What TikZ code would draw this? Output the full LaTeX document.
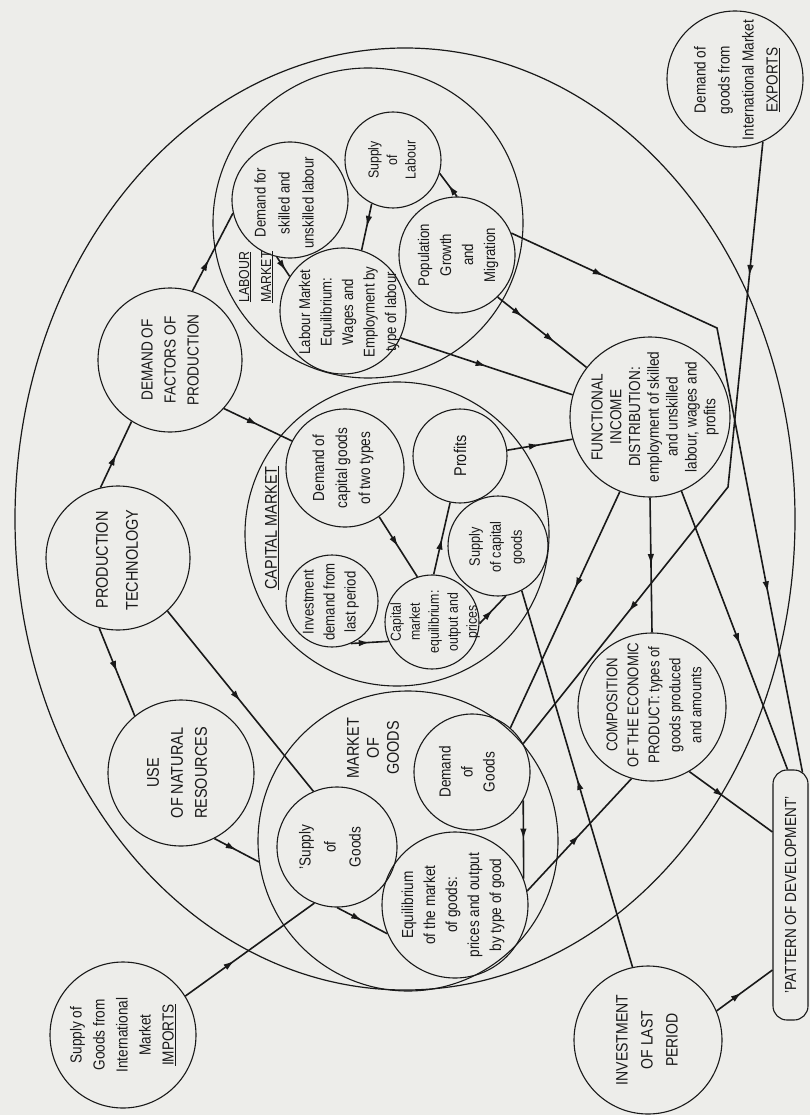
\documentclass[tikz,border=0pt]{standalone}
\usepackage{fontspec}
\setmainfont{Liberation Sans}[FakeStretch=0.85]
\usetikzlibrary{arrows.meta,decorations.markings,calc}
\newcommand{\myfs}[2]{\fontsize{#1}{#2}\selectfont}
\definecolor{bg}{RGB}{237,237,234}
\definecolor{ink}{RGB}{25,25,25}
\tikzset{
 ci/.style={circle, draw=ink, line width=1.1pt, inner sep=0pt, minimum size=#1},
 tx/.style={rotate=90, align=center, text=ink, inner sep=0pt},
 conn/.style={draw=ink, line width=1.6pt},
 tipa/.tip={Latex[length=11pt,width=6.5pt]},
 ma/.style={decoration={markings, mark=at position #1 with {\arrow{tipa}}}, postaction={decorate}},
 ma/.default=0.5,
 matwo/.style 2 args={decoration={markings, mark=at position #1 with {\arrow{tipa}}, mark=at position #2 with {\arrow{tipa}}}, postaction={decorate}},
}
\begin{document}
\begin{tikzpicture}[x=1pt,y=-1pt]
\fill[bg] (0,0) rectangle (810,1115);
\useasboundingbox (0,0) rectangle (810,1115);

% big outlines
\draw[ink, line width=1.2pt] (405,519) ellipse [x radius=390pt, y radius=471pt];
\node[ci=310] (LC) at (368,223) {};
\node[ci=304] (CC) at (397,534) {};
\node[ci=300] (GC) at (408,841) {};

% outer nodes
\node[ci=144] (PT) at (118,558) {};
\node[ci=144] (DF) at (170,360) {};
\node[ci=146] (UNR) at (181,773) {};
\node[ci=146] (IMP) at (123,1035) {};
\node[ci=148] (ILP) at (648,1040) {};
\node[ci=136] (EXP) at (735,79) {};
\node[ci=160] (FID) at (650,417) {};
\node[ci=148] (COMP) at (652,707) {};
\node[draw=ink, line width=1.1pt, rounded corners=14pt, minimum width=35, minimum height=250, inner sep=0pt] (PAT) at (790.5,895) {};

% labour market
\node[ci=116] (DSL) at (290,200) {};
\node[ci=126] (LME) at (343,311) {};
\node[ci=96] (SoL) at (393,160) {};
\node[ci=116] (PG) at (457,255) {};
% capital market
\node[ci=118] (DCG) at (345,468) {};
\node[ci=94] (PRO) at (460,456) {};
\node[ci=100] (SCG) at (498,546) {};
\node[ci=92] (IDLP) at (332,601) {};
\node[ci=94] (CME) at (432,622) {};
% goods market
\node[ci=116] (DoG) at (472,772) {};
\node[ci=120] (SoG) at (337,847) {};
\node[ci=146] (EqG) at (455,905) {};

% texts
\node[tx, font=\myfs{17}{30}] (PTt) at (117,560) {PRODUCTION\\TECHNOLOGY};
\node[tx, font=\myfs{16}{23}] (DFt) at (170,360) {DEMAND OF\\FACTORS OF\\PRODUCTION};
\node[tx, font=\myfs{17}{24}] (UNRt) at (177,773) {USE\\OF NATURAL\\RESOURCES};
\node[tx, font=\myfs{16}{23}] (IMPt) at (123,1035) {Supply of\\Goods from\\International\\Market\\\underline{IMPORTS}};
\node[tx, font=\myfs{16.5}{25}] (ILPt) at (647,1040) {INVESTMENT\\OF LAST\\PERIOD};
\node[tx, font=\myfs{16}{24}] (EXPt) at (737,80) {Demand of\\goods from\\International Market\\\underline{EXPORTS}};
\node[tx, font=\myfs{16}{18.8}] (FIDt) at (655,417) {FUNCTIONAL\\INCOME\\DISTRIBUTION:\\employment of skilled\\and unskilled\\labour, wages and\\profits};
\node[tx, font=\myfs{15.5}{21}] (COMPt) at (654,705) {COMPOSITION\\OF THE ECONOMIC\\PRODUCT: types of\\goods produced\\and amounts};
\node[tx, font=\myfs{16}{20}] (PATt) at (PAT) {'PATTERN OF DEVELOPMENT'};

\node[tx, font=\myfs{14.5}{22}] (LMl) at (256,277) {\underline{LABOUR}\\\underline{MARKET}};
\node[tx, font=\myfs{15.5}{24}] (DSLt) at (284,203) {Demand for\\skilled and\\unskilled labour};
\node[tx, font=\myfs{15.5}{21.5}] (LMEt) at (349,312) {Labour Market\\Equilibrium:\\Wages and\\Employment by\\type of labour};
\node[tx, font=\myfs{14.5}{18.5}] (SoLt) at (392,160) {Supply\\of\\Labour};
\node[tx, font=\myfs{15.5}{22}] (PGt) at (458,255) {Population\\Growth\\and\\Migration};

\node[tx, font=\myfs{17}{20}] (CMl) at (272,528) {\underline{CAPITAL MARKET}};
\node[tx, font=\myfs{16}{23}] (DCGt) at (343,468) {Demand of\\capital goods\\of two types};
\node[tx, font=\myfs{17}{20}] (PROt) at (460,456) {Profits};
\node[tx, font=\myfs{15}{21}] (SCGt) at (497,547) {Supply\\of capital\\goods};
\node[tx, font=\myfs{15.5}{21}] (IDLPt) at (331,602) {Investment\\demand from\\last period};
\node[tx, font=\myfs{14.5}{19}] (CMEt) at (435,622) {Capital\\market\\equilibrium:\\output and\\prices};

\node[tx, font=\myfs{17}{20}] (GMl) at (373,748) {MARKET\\OF\\GOODS};
\node[tx, font=\myfs{16}{22}] (DoGt) at (467,772) {Demand\\of\\Goods};
\node[tx, font=\myfs{16}{25}] (SoGt) at (330,847) {{'}Supply\\of\\Goods};
\node[tx, font=\myfs{16}{22}] (EqGt) at (453,905) {Equilibrium\\of the market\\of goods:\\prices and output\\by type of good};

% connectors
\draw[conn, ma] (PT.104.8) -- (DF.238.4);
\draw[conn, ma] (PT.255.4) -- (UNR.129.9);
\draw[conn, ma] (PT.313.3) -- (SoG.113.6);
\draw[conn, ma] (DF.318.4) -- (DCG.153.9);
\draw[conn, ma=0.4] (DF.72.6) -- (DSL.193.3);
\draw[conn, ma=0.7] (DSL.257.8) -- (LME.147.3);
\draw[conn, ma] (SoL.244) -- (LME.73.5);
\draw[conn, ma=0.5] (PG.90) -- (SoL.344.7);
\draw[conn, ma] (LME.335) -- (FID.164.2);
\draw[conn, matwo={0.28}{0.64}] (PG.314.3) -- (FID.142.1);
\coordinate (b1) at (717,328);
\draw[conn, matwo={0.15}{0.73}] (PG.22.5) -- (b1) -- ($(PAT.north)+(12,3)$);
\coordinate (b2) at (728,487);
\draw[conn, matwo={0.2}{0.75}] (EXP.294.9) -- (b2) -- (DoG.29.5);
\draw[conn, ma] (FID.270) -- (COMP.90);
\draw[conn, ma=0.41] (FID.248.5) -- (DoG.49.2);
\draw[conn, ma=0.55] (FID.293.5) -- ($(PAT.north)+(-3,0)$);
\draw[conn, ma] (PRO.7.3) -- (FID.196.6);
\draw[conn, ma] (DCG.305) -- (CME.108.4);
\draw[conn, ma] (CME.88.8) -- (PRO.258);
\draw[conn, ma] (IDLP.294.8) -- (CME.204);
\draw[conn, ma] (CME.358.8) -- (SCG.279.8);
\draw[conn, ma] (ILP.102.5) -- (SCG.298);
\draw[conn, ma=0.45] (ILP.23.5) -- ($(PAT.west)+(0,75)$);
\draw[conn, ma=0.42] (COMP.300.5) -- ($(PAT.west)+(0,-63)$);
\draw[conn, ma] (EqG.11.8) -- (COMP.254.4);
\draw[conn, ma] (DoG.331.2) -- (EqG.21.3);
\draw[conn, ma] (SoG.270) -- (EqG.203.3);
\draw[conn, ma=0.38] (IMP.32.3) -- (SoG.248.6);
\draw[conn, ma] (UNR.297.6) -- (GC.188.6);
\end{tikzpicture}
\end{document}
